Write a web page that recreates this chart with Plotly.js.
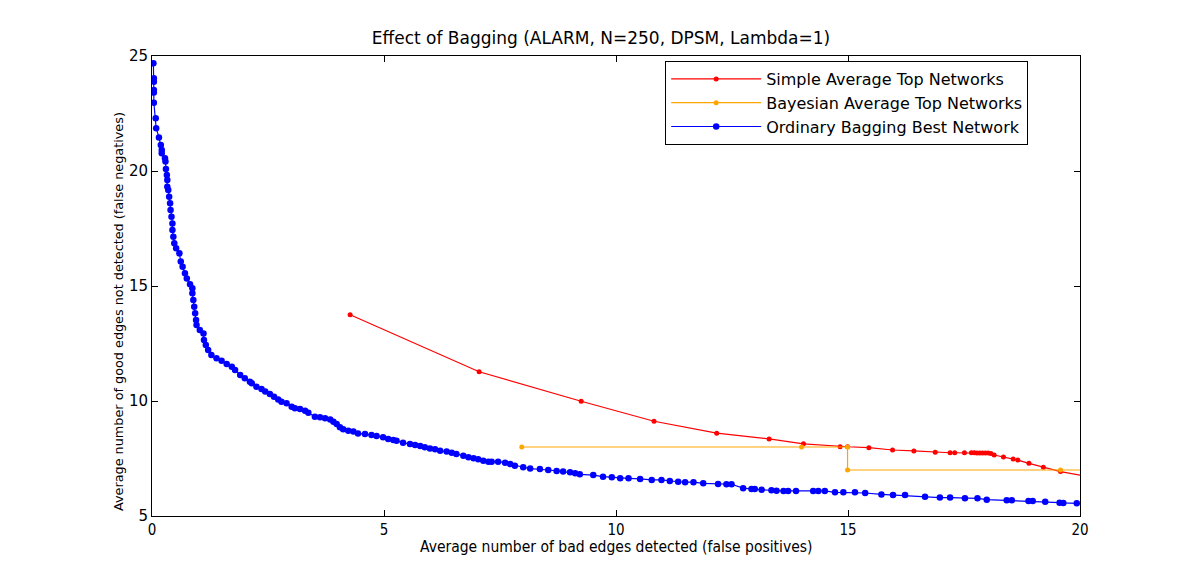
<!DOCTYPE html>
<html>
<head>
<meta charset="utf-8">
<script src="https://cdn.plot.ly/plotly-3.0.1.min.js"></script>
<style>html,body{margin:0;padding:0;background:#fff;}#chart{width:1200px;height:573px;}</style>
</head>
<body>
<div id="chart"></div>
<script>
// Simple Average Top Networks
var simpleX = [4.27, 7.05, 9.25, 10.82, 12.17, 13.30, 14.04, 14.83, 14.99, 15.45, 15.96, 16.42, 16.88, 17.20, 17.30, 17.51, 17.66, 17.72, 17.78, 17.84, 17.90, 17.96, 18.02, 18.08, 18.15, 18.35, 18.56, 18.66, 18.90, 19.21, 19.58, 20.30];
var simpleY = [13.75, 11.27, 9.99, 9.12, 8.60, 8.35, 8.14, 8.01, 8.01, 7.97, 7.87, 7.83, 7.77, 7.75, 7.75, 7.75, 7.75, 7.75, 7.74, 7.74, 7.74, 7.74, 7.74, 7.72, 7.65, 7.57, 7.48, 7.43, 7.29, 7.12, 6.93, 6.67];

// Bayesian Average Top Networks
var bayesX = [7.97, 14.00, 14.99, 14.99, 19.58, 20.50];
var bayesY = [8.00, 8.00, 8.00, 7.00, 7.00, 7.00];

// Ordinary Bagging Best Network
var bagX = [0.03, 0.04, 0.04, 0.04, 0.04, 0.04, 0.08, 0.09, 0.15, 0.19, 0.21, 0.21, 0.28, 0.29, 0.30, 0.32, 0.33, 0.33, 0.35, 0.37,
  0.39, 0.40, 0.42, 0.44, 0.44, 0.46, 0.48, 0.52, 0.59, 0.62, 0.66, 0.71, 0.75, 0.82, 0.87, 0.87, 0.89, 0.91, 0.93, 0.95,
  0.96, 1.03, 1.11, 1.12, 1.16, 1.21, 1.28, 1.39, 1.50, 1.61, 1.72, 1.79, 1.90, 2.00, 2.11, 2.15, 2.25, 2.36, 2.44, 2.54,
  2.63, 2.72, 2.79, 2.90, 3.01, 3.08, 3.19, 3.30, 3.37, 3.51, 3.62, 3.73, 3.84, 3.91, 3.98, 4.05, 4.12, 4.23, 4.34, 4.44,
  4.59, 4.73, 4.84, 4.98, 5.09, 5.20, 5.27, 5.41, 5.56, 5.67, 5.78, 5.88, 5.99, 6.10, 6.21, 6.35, 6.46, 6.56, 6.71, 6.82,
  6.93, 7.03, 7.14, 7.25, 7.32, 7.46, 7.61, 7.72, 7.82, 8.00, 8.15, 8.36, 8.54, 8.72, 8.86, 9.01, 9.12, 9.22, 9.51, 9.72,
  9.91, 10.09, 10.27, 10.52, 10.77, 10.98, 11.16, 11.34, 11.49, 11.67, 11.88, 12.20, 12.38, 12.49, 12.74, 12.92, 12.99, 13.14, 13.35, 13.46,
  13.61, 13.71, 13.88, 14.25, 14.36, 14.50, 14.72, 14.90, 15.15, 15.37, 15.72, 15.97, 16.23, 16.66, 16.98, 17.20, 17.52, 17.79, 17.99, 18.42,
  18.53, 18.89, 18.98, 19.25, 19.56, 19.64, 19.93];
var bagY = [24.68, 24.03, 23.88, 23.52, 23.41, 22.97, 22.29, 21.86, 21.46, 21.13, 20.91, 20.77, 20.55, 20.41, 20.09, 19.83, 19.61, 19.32, 19.17, 18.88,
  18.60, 18.30, 18.01, 17.72, 17.43, 17.14, 16.86, 16.64, 16.42, 16.06, 15.84, 15.55, 15.33, 15.08, 14.90, 14.68, 14.39, 14.10, 13.81, 13.52,
  13.30, 13.09, 12.94, 12.65, 12.43, 12.22, 12.00, 11.86, 11.75, 11.61, 11.49, 11.35, 11.13, 10.99, 10.84, 10.77, 10.62, 10.52, 10.41, 10.30,
  10.19, 10.07, 9.97, 9.90, 9.75, 9.68, 9.65, 9.58, 9.49, 9.32, 9.29, 9.25, 9.20, 9.10, 9.00, 8.86, 8.77, 8.71, 8.67, 8.59,
  8.57, 8.52, 8.48, 8.42, 8.35, 8.30, 8.27, 8.19, 8.13, 8.09, 8.04, 7.99, 7.94, 7.90, 7.84, 7.80, 7.75, 7.70, 7.62, 7.55,
  7.51, 7.47, 7.40, 7.36, 7.36, 7.36, 7.32, 7.26, 7.19, 7.12, 7.06, 7.04, 7.00, 6.96, 6.93, 6.90, 6.86, 6.81, 6.78, 6.71,
  6.68, 6.64, 6.64, 6.61, 6.57, 6.57, 6.52, 6.49, 6.47, 6.47, 6.42, 6.39, 6.38, 6.38, 6.21, 6.17, 6.17, 6.14, 6.12, 6.10,
  6.09, 6.09, 6.09, 6.09, 6.09, 6.09, 6.03, 6.03, 6.03, 6.00, 5.94, 5.91, 5.91, 5.84, 5.80, 5.80, 5.77, 5.77, 5.71, 5.68,
  5.68, 5.65, 5.65, 5.62, 5.58, 5.57, 5.55];

var xTicks = [0, 5, 10, 15, 20];
var yTicks = [5, 10, 15, 20, 25];

var titleText = "Effect of Bagging (ALARM, N=250, DPSM, Lambda=1)";
var xTitle = "Average number of bad edges detected (false positives)";
var yTitle = "Average number of good edges not detected (false negatives)";

var font = "DejaVu Sans, Liberation Sans, sans-serif";
var condFont = "DejaVu Sans Condensed, DejaVu Sans, sans-serif";

var traces = [
  {x: simpleX, y: simpleY, name: "Simple Average Top Networks", type: "scatter", mode: "lines+markers",
   line: {color: "#ff0000", width: 1.2}, marker: {color: "#ff0000", size: 5}},
  {x: bayesX, y: bayesY, name: "Bayesian Average Top Networks", type: "scatter", mode: "lines+markers",
   line: {color: "#ffa500", width: 1.2}, marker: {color: "#ffa500", size: 5}},
  {x: bagX, y: bagY, name: "Ordinary Bagging Best Network", type: "scatter", mode: "lines+markers",
   line: {color: "#0000ff", width: 1.2}, marker: {color: "#0000ff", size: 6.5}}
];

var layout = {
  width: 1200, height: 573,
  margin: {l: 152, r: 120, t: 56, b: 57, pad: 0},
  paper_bgcolor: "#ffffff", plot_bgcolor: "#ffffff",
  font: {family: font, size: 14, color: "#000"},
  title: {text: titleText, font: {family: font, size: 17, color: "#000"},
          x: (601 - 152) / 928, xref: "paper", xanchor: "center", y: 1 - 38 / 573, yref: "container", yanchor: "middle"},
  showlegend: true,
  legend: {x: 0.553, y: (516 - 61) / 460, xanchor: "left", yanchor: "top", bgcolor: "#ffffff",
           bordercolor: "#000", borderwidth: 1, font: {family: font, size: 16, color: "#000"},
           itemwidth: 90, tracegroupgap: 0},
  xaxis: {range: [0, 20], tickvals: xTicks, ticktext: xTicks.map(String), ticks: "inside", ticklen: 6, tickwidth: 1,
          tickcolor: "#000", showline: true, linecolor: "#000", linewidth: 1, mirror: "ticks", showgrid: false,
          zeroline: false, tickfont: {family: condFont, size: 15}},
  yaxis: {range: [5, 25], tickvals: yTicks, ticktext: yTicks.map(String), ticks: "inside", ticklen: 6, tickwidth: 1,
          tickcolor: "#000", showline: true, linecolor: "#000", linewidth: 1, mirror: "ticks", showgrid: false,
          zeroline: false, tickfont: {family: font, size: 15}},
  annotations: [
    {text: xTitle, xref: "paper", yref: "paper", x: 0.5, y: -(547 - 516) / 460, xanchor: "center", yanchor: "middle",
     showarrow: false, font: {family: condFont, size: 15.5, color: "#000"}},
    {text: yTitle, xref: "paper", yref: "paper", x: -(152 - 118) / 928, y: (516 - 312) / 460, xanchor: "center", yanchor: "middle",
     textangle: -90, showarrow: false, font: {family: font, size: 12.8, color: "#000"}}
  ]
};

Plotly.newPlot("chart", traces, layout, {displayModeBar: false, staticPlot: true});
</script>
</body>
</html>
